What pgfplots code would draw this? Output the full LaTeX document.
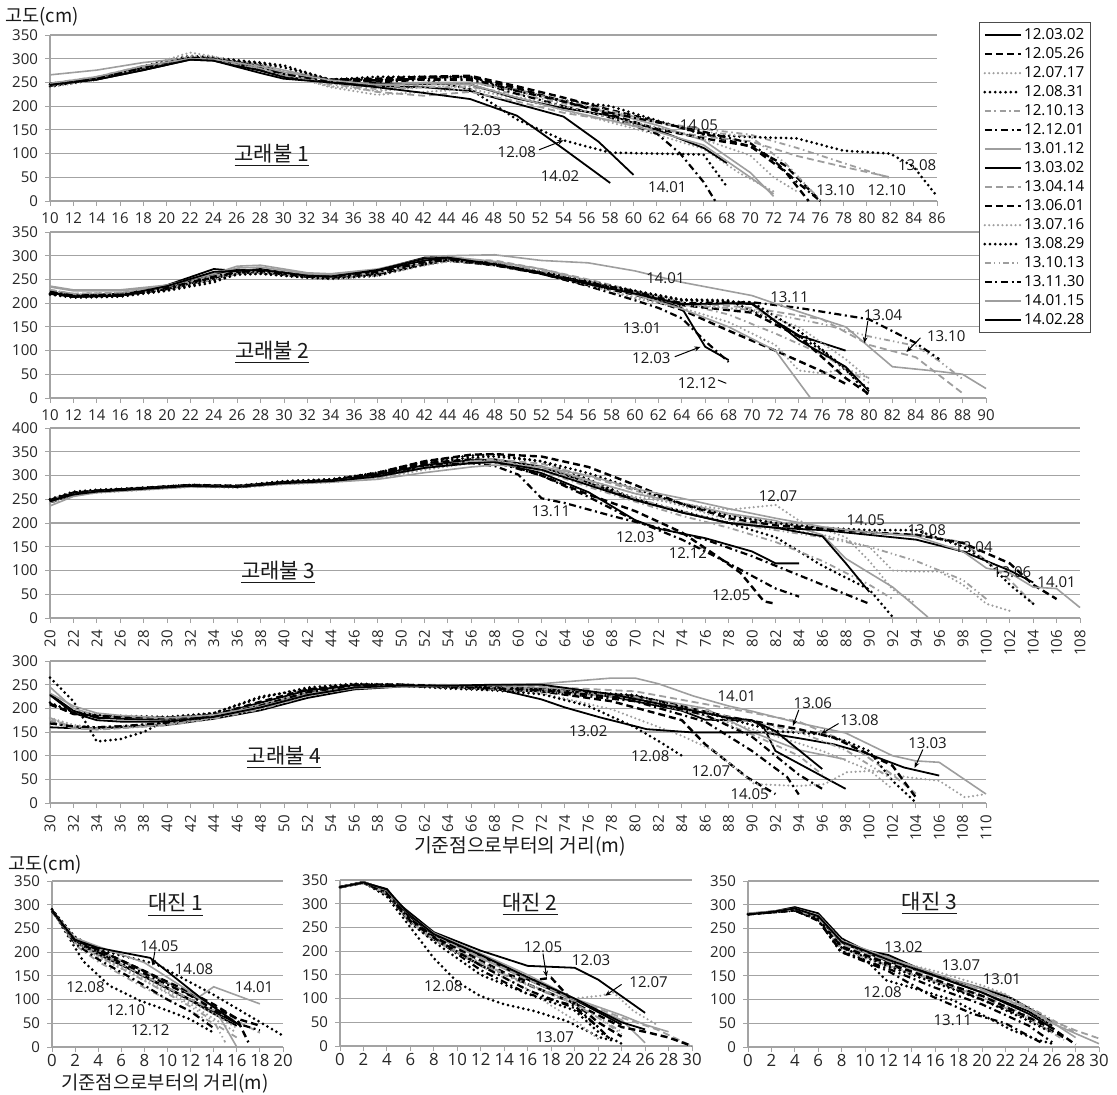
\documentclass[border=0pt]{standalone}
\usepackage{fontspec}
\setmainfont{Open Sans}
\newfontfamily\kr{Noto Sans CJK KR}
\usepackage{pgfplots}
\pgfplotsset{compat=1.18}
\usetikzlibrary{arrows.meta}

\definecolor{gridc}{HTML}{A3A3A3}
\definecolor{lgray}{HTML}{9E9E9E}

% line styles of the 16 survey dates
\tikzset{
  st1/.style={draw=black, line width=0.9pt},
  st2/.style={draw=black, line width=1.2pt, dash pattern=on 3.5pt off 2pt},
  st3/.style={draw=lgray, line width=1.2pt, line cap=round, dash pattern=on 0pt off 2.2pt},
  st4/.style={draw=black, line width=1.5pt, line cap=round, dash pattern=on 0pt off 2.6pt},
  st5/.style={draw=lgray, line width=0.9pt, dash pattern=on 3pt off 1.8pt on 0.8pt off 1.8pt},
  st6/.style={draw=black, line width=1.1pt, dash pattern=on 3.5pt off 1.8pt on 1pt off 1.8pt},
  st7/.style={draw=lgray, line width=0.8pt},
  st8/.style={draw=black, line width=0.9pt},
  st9/.style={draw=lgray, line width=0.9pt, dash pattern=on 3.5pt off 2pt},
  st10/.style={draw=black, line width=1.2pt, dash pattern=on 3.5pt off 2pt},
  st11/.style={draw=lgray, line width=1.2pt, line cap=round, dash pattern=on 0pt off 2.2pt},
  st12/.style={draw=black, line width=1.5pt, line cap=round, dash pattern=on 0pt off 2.6pt},
  st13/.style={draw=lgray, line width=0.9pt, dash pattern=on 3pt off 1.6pt on 0.7pt off 1.6pt on 0.7pt off 1.6pt},
  st14/.style={draw=black, line width=1.1pt, dash pattern=on 3.5pt off 1.8pt on 1pt off 1.8pt},
  st15/.style={draw=lgray, line width=0.8pt},
  st16/.style={draw=black, line width=0.9pt},
  lab/.style={font=\fontsize{7.5}{9}\selectfont, text=black!90, inner sep=0.5pt},
  ttl/.style={font=\kr\fontsize{10.5}{12}\selectfont, text=black!90},
  arr/.style={-{Stealth[length=3pt,width=2.4pt]}, line width=0.5pt, black},
}

\pgfplotsset{
  prof/.style={
    scale only axis, anchor=south west, clip=false,
    axis x line*=bottom, axis y line*=left,
    axis line style={draw=gridc, line width=0.6pt, -},
    ymajorgrids, major grid style={draw=gridc, line width=0.6pt},
    tick align=outside, major tick length=2.5pt,
    major tick style={draw=gridc, line width=0.5pt},
    ymin=0,
    tick label style={font=\fontsize{7.5}{9}\selectfont, text=black!85},
    /pgf/number format/assume math mode=true,
  },
  small/.style={
    xticklabel style={font=\fontsize{8.4}{10}\selectfont, yshift=2.5pt},
  }
}

\begin{document}
\begin{tikzpicture}

% ---------------- 고래불 2 ----------------
\begin{axis}[prof, at={(25pt,-199pt)}, width=468pt, height=83pt,
  xmin=10, xmax=90, ymax=350, xtick={10,12,...,90}, ytick={0,50,...,350}]
\addplot[st1] coordinates {(10,222) (12,214) (16,216) (20,238) (24,272) (26,268) (28,272) (32,258) (34,256) (38,270) (42,296) (44,298) (48,284) (52,262) (56,242) (60,222) (64,190) (66,108) (68,80)};
\addplot[st2] coordinates {(10,220) (12,214) (16,218) (20,230) (24,255) (26,264) (28,266) (32,256) (34,254) (38,262) (42,284) (44,290) (48,280) (52,262) (56,238) (60,218) (64,186) (68,142) (72,100) (76,56) (78,30)};
\addplot[st3] coordinates {(10,224) (12,216) (16,218) (20,228) (24,250) (26,262) (28,264) (32,254) (34,250) (38,258) (42,280) (44,288) (48,282) (52,268) (56,240) (60,210) (64,190) (68,160) (72,112) (74,58) (76,52) (78,62) (80,42)};
\addplot[st4] coordinates {(10,218) (12,212) (16,214) (20,226) (24,244) (26,262) (28,262) (32,254) (34,252) (38,258) (42,282) (44,292) (48,282) (52,266) (56,244) (60,226) (64,208) (68,206) (72,162) (76,100) (80,18)};
\addplot[st5] coordinates {(10,226) (12,218) (16,220) (20,232) (24,252) (26,266) (28,268) (32,256) (34,254) (38,260) (42,284) (44,290) (48,280) (52,262) (56,240) (60,220) (64,200) (68,176) (72,136) (76,92) (80,32)};
\addplot[st6] coordinates {(10,222) (12,214) (16,216) (20,230) (24,252) (26,264) (28,266) (32,256) (34,254) (38,264) (42,286) (44,292) (48,280) (52,262) (56,236) (60,206) (62,190) (64,168) (66,120) (68,76)};
\addplot[st7] coordinates {(10,234) (12,226) (16,226) (20,236) (24,260) (26,274) (28,276) (32,262) (34,260) (38,270) (42,292) (44,298) (48,288) (52,272) (56,248) (60,218) (64,188) (68,150) (72,100) (75,0)};
\addplot[st8] coordinates {(10,224) (12,216) (16,220) (20,234) (24,262) (26,270) (28,270) (32,258) (34,256) (38,268) (42,290) (44,294) (48,284) (52,264) (56,244) (60,222) (64,196) (68,200) (70,198) (72,162) (74,132) (78,100)};
\addplot[st9] coordinates {(10,228) (12,220) (16,222) (20,234) (24,258) (26,268) (28,270) (32,258) (34,256) (38,262) (42,280) (44,292) (48,290) (52,272) (56,250) (60,226) (64,202) (70,190) (76,166) (80,112) (84,86) (88,10)};
\addplot[st10] coordinates {(10,222) (12,214) (16,216) (20,230) (24,254) (26,264) (28,266) (32,256) (34,254) (38,262) (42,282) (44,290) (48,282) (52,264) (56,242) (60,222) (64,196) (70,180) (74,130) (78,42) (80,8)};
\addplot[st11] coordinates {(10,226) (12,218) (16,220) (20,230) (24,250) (26,262) (28,264) (32,254) (34,252) (38,258) (42,280) (44,288) (48,284) (52,266) (56,238) (60,212) (64,200) (70,184) (74,150) (78,82) (80,40)};
\addplot[st12] coordinates {(10,220) (12,212) (16,214) (20,228) (24,248) (26,260) (28,262) (32,254) (34,252) (38,260) (42,282) (44,292) (48,282) (52,266) (56,246) (60,226) (64,206) (70,202) (74,142) (78,62) (80,4)};
\addplot[st13] coordinates {(10,228) (12,220) (16,222) (20,234) (24,256) (26,266) (28,268) (32,258) (34,256) (38,264) (42,284) (44,292) (48,286) (52,268) (56,246) (60,222) (64,196) (70,186) (76,156) (80,130) (84,110) (86,78) (88,40)};
\addplot[st14] coordinates {(10,224) (12,216) (16,218) (20,232) (24,256) (26,266) (28,268) (32,256) (34,256) (38,266) (42,286) (44,292) (48,282) (52,264) (56,244) (60,224) (64,200) (70,202) (74,190) (80,166) (84,116) (86,82)};
\addplot[st15] coordinates {(10,236) (12,228) (16,228) (20,238) (24,262) (26,278) (28,280) (32,264) (34,262) (38,272) (42,294) (44,300) (48,302) (52,290) (56,285) (60,268) (64,244) (70,216) (74,182) (78,150) (82,66) (86,56) (88,50) (90,20)};
\addplot[st16] coordinates {(10,222) (12,214) (16,216) (20,236) (24,266) (26,268) (28,270) (32,258) (34,256) (38,270) (42,294) (44,296) (48,282) (52,262) (56,240) (60,220) (64,198) (70,200) (72,162) (74,122) (78,66) (80,14)};
\node[ttl] at (axis cs:29,96) {\underline{고래불 2}};
\node[lab] at (axis cs:62.6,253) {14.01};
\node[lab] at (axis cs:73.2,213) {13.11};
\node[lab] at (axis cs:81.2,175) {13.04};
\draw[arr] (axis cs:79.9,162) -- (axis cs:79.6,116);
\node[lab] at (axis cs:86.6,131) {13.10};
\draw[arr] (axis cs:84.4,127) -- (axis cs:83.2,97);
\node[lab] at (axis cs:60.6,147) {13.01};
\node[lab] at (axis cs:61.4,84) {12.03};
\draw[arr] (axis cs:63.4,87) -- (axis cs:65.6,108);
\node[lab] at (axis cs:65.3,32) {12.12};
\draw[line width=0.5pt] (axis cs:67.1,38) -- (axis cs:67.8,31);
\end{axis}

% ---------------- 고래불 1 ----------------
\begin{axis}[prof, at={(25pt,-100.5pt)}, width=443.5pt, height=83pt,
  xmin=10, xmax=86, ymax=350, xtick={10,12,...,86}, ytick={0,50,...,350},
  legend style={at={(1.047,1.078)}, anchor=north west, draw=black!70, line width=0.6pt,
    fill=white, font=\fontsize{7.6}{9}\selectfont, inner xsep=2pt, inner ysep=1.5pt,
    row sep=0pt, nodes={inner sep=0.9pt, text height=6.1pt, text depth=1.6pt}},
  legend cell align=left,
  legend image code/.code={\draw[#1] (0pt,0pt) -- (18pt,0pt);}]
\addplot[st1] coordinates {(10,246) (14,256) (18,276) (22,298) (24,296) (28,275) (30,262) (34,250) (38,242) (42,240) (46,232) (50,205) (54,178) (57,125) (60,55)};
\addplot[st2] coordinates {(10,243) (14,258) (18,280) (22,302) (24,300) (28,285) (30,270) (34,256) (38,258) (42,262) (46,264) (50,242) (54,218) (58,192) (62,168) (66,142) (70,115) (73,75) (76,0)};
\addplot[st3] coordinates {(10,240) (14,255) (18,283) (22,313) (24,305) (28,280) (30,268) (34,240) (38,224) (42,230) (46,236) (50,216) (54,192) (58,166) (62,140) (66,110) (69,60) (72,20)};
\addplot[st4] coordinates {(10,242) (14,257) (18,284) (22,306) (24,302) (28,292) (30,286) (34,256) (38,256) (42,256) (46,236) (50,172) (54,128) (58,102) (62,100) (66,98) (68,30)};
\addplot[st5] coordinates {(10,248) (14,262) (18,285) (22,300) (24,298) (28,278) (30,265) (34,246) (38,236) (42,240) (46,240) (50,226) (54,206) (58,186) (62,166) (66,152) (70,140) (74,112) (78,80) (82,48)};
\addplot[st6] coordinates {(10,244) (14,258) (18,280) (22,301) (24,299) (28,280) (30,268) (34,250) (38,250) (42,256) (46,255) (50,226) (54,200) (58,176) (62,142) (64,100) (66,40) (67,0)};
\addplot[st7] coordinates {(10,266) (14,276) (18,292) (22,302) (24,300) (28,288) (30,276) (34,256) (38,246) (42,250) (46,250) (50,236) (54,210) (58,186) (62,160) (66,128) (70,60) (72,10)};
\addplot[st8] coordinates {(10,248) (14,258) (18,279) (22,300) (24,298) (28,276) (30,262) (34,250) (38,246) (42,246) (46,246) (50,216) (54,196) (58,180) (62,150) (66,112) (68,80)};
\addplot[st9] coordinates {(10,245) (14,260) (18,280) (22,300) (24,298) (28,280) (30,266) (34,250) (38,230) (42,222) (46,230) (50,210) (54,186) (58,170) (62,152) (66,136) (70,126) (74,95) (78,72) (82,50)};
\addplot[st10] coordinates {(10,246) (14,258) (18,280) (22,300) (24,299) (28,284) (30,270) (34,256) (38,252) (42,260) (46,262) (50,238) (54,210) (58,182) (62,152) (66,132) (70,116) (73,62) (75,0)};
\addplot[st11] coordinates {(10,244) (14,256) (18,280) (22,306) (24,304) (28,282) (30,268) (34,242) (38,232) (42,240) (46,242) (50,220) (54,200) (58,176) (62,156) (66,130) (70,96) (72,50) (74,20)};
\addplot[st12] coordinates {(10,246) (14,258) (18,282) (22,302) (24,300) (28,290) (30,282) (34,256) (38,262) (42,262) (46,262) (50,232) (54,212) (58,200) (62,170) (66,140) (70,135) (74,132) (78,106) (82,100) (84,72) (86,10)};
\addplot[st13] coordinates {(10,244) (14,257) (18,282) (22,300) (24,298) (28,280) (30,265) (34,248) (38,240) (42,245) (46,250) (50,232) (54,212) (58,190) (62,166) (66,146) (70,136) (73,80) (76,2)};
\addplot[st14] coordinates {(10,245) (14,258) (18,282) (22,302) (24,300) (28,284) (30,268) (34,252) (38,255) (42,258) (46,258) (50,232) (54,210) (58,186) (62,166) (66,146) (70,122) (72,86) (74,40) (76,0)};
\addplot[st15] coordinates {(10,248) (14,262) (18,285) (22,300) (24,299) (28,284) (30,272) (34,255) (38,245) (42,248) (46,246) (50,218) (54,192) (58,170) (62,146) (66,118) (70,50) (72,15)};
\addplot[st16] coordinates {(10,245) (14,256) (18,276) (22,298) (24,296) (28,270) (30,258) (34,250) (38,240) (42,228) (46,215) (50,180) (54,110) (58,38)};
\legend{12.03.02,12.05.26,12.07.17,12.08.31,12.10.13,12.12.01,13.01.12,13.03.02,13.04.14,13.06.01,13.07.16,13.08.29,13.10.13,13.11.30,14.01.15,14.02.28}
\node[ttl] at (axis cs:29,96) {\underline{고래불 1}};
\node[lab] at (axis cs:47,150) {12.03};
\node[lab] at (axis cs:50,103) {12.08};
\draw[arr] (axis cs:51.9,108) -- (axis cs:54,128);
\node[lab] at (axis cs:53.7,52) {14.02};
\node[lab] at (axis cs:65.6,160) {14.05};
\node[lab] at (axis cs:62.9,30) {14.01};
\node[lab] at (axis cs:77.3,23) {13.10};
\node[lab] at (axis cs:81.7,23) {12.10};
\node[lab] at (axis cs:84.3,76) {13.08};
\end{axis}

% ---------------- 고래불 3 ----------------
\begin{axis}[prof, at={(25pt,-309pt)}, width=515pt, height=95pt,
  xmin=20, xmax=108, ymax=400, xtick={20,22,...,108}, ytick={0,50,...,400},
  xticklabel style={rotate=90, anchor=east}]
\addplot[st1] coordinates {(20,248) (22,262) (24,266) (28,272) (32,280) (36,276) (40,286) (44,288) (48,300) (52,322) (56,332) (58,330) (62,305) (66,265) (70,206) (72,188) (76,168) (80,140) (82,115) (84,115)};
\addplot[st2] coordinates {(20,244) (22,260) (24,266) (28,272) (32,278) (36,276) (40,284) (44,290) (48,304) (52,326) (56,334) (58,332) (62,300) (66,260) (70,225) (74,180) (77,130) (79,95) (81,35) (82,30)};
\addplot[st3] coordinates {(20,240) (22,258) (24,264) (28,270) (32,276) (36,274) (40,282) (44,286) (48,294) (52,312) (56,326) (58,330) (62,310) (66,280) (70,255) (74,240) (78,228) (82,238) (84,205) (88,170) (90,120) (92,60) (94,30)};
\addplot[st4] coordinates {(20,250) (22,264) (24,268) (28,274) (32,280) (36,278) (40,288) (44,292) (48,306) (52,330) (56,342) (58,344) (62,330) (66,292) (70,250) (74,225) (78,200) (82,170) (86,110) (90,60) (92,2)};
\addplot[st5] coordinates {(20,246) (22,262) (24,268) (28,272) (32,278) (36,276) (40,284) (44,288) (48,300) (52,318) (56,328) (58,330) (62,310) (66,276) (70,245) (74,215) (78,190) (82,160) (86,120) (90,70) (92,40)};
\addplot[st6] coordinates {(20,244) (22,260) (24,266) (28,272) (32,278) (36,276) (40,284) (44,288) (48,302) (52,320) (56,330) (58,328) (62,300) (66,255) (70,205) (74,165) (78,115) (82,62) (84,45)};
\addplot[st7] coordinates {(20,250) (22,264) (24,268) (28,274) (32,280) (36,278) (40,286) (44,290) (48,300) (52,318) (56,328) (58,332) (62,320) (66,290) (70,262) (74,242) (78,220) (82,205) (86,175) (88,125) (92,65) (95,2)};
\addplot[st8] coordinates {(20,246) (22,262) (24,268) (28,274) (32,280) (36,278) (40,286) (44,290) (48,302) (52,320) (56,332) (58,334) (62,318) (66,285) (70,250) (74,222) (78,200) (82,190) (86,185) (90,175) (94,165) (98,140) (102,100) (104,75)};
\addplot[st9] coordinates {(20,244) (22,262) (24,266) (28,272) (32,280) (36,280) (40,282) (44,290) (48,296) (52,316) (56,330) (58,334) (62,325) (66,298) (70,268) (74,240) (78,218) (82,200) (86,190) (90,180) (94,175) (98,160) (100,120) (102,80) (104,30)};
\addplot[st10] coordinates {(20,248) (22,264) (24,268) (28,274) (32,280) (36,278) (40,286) (44,290) (48,306) (52,330) (56,344) (58,345) (62,340) (66,318) (70,280) (74,240) (78,210) (82,195) (86,188) (90,180) (94,175) (98,158) (102,115) (104,70) (106,40)};
\addplot[st11] coordinates {(20,242) (22,260) (24,264) (28,270) (32,278) (36,276) (40,282) (44,286) (48,296) (52,314) (56,326) (58,330) (62,318) (66,290) (70,262) (74,236) (78,206) (82,190) (86,175) (90,150) (92,100) (94,98) (96,98) (98,70) (100,30) (102,15)};
\addplot[st12] coordinates {(20,250) (22,266) (24,270) (28,274) (32,280) (36,278) (40,288) (44,292) (48,304) (52,326) (56,338) (58,340) (62,330) (66,305) (70,272) (74,240) (78,215) (82,200) (86,190) (90,185) (94,185) (98,150) (100,120) (102,70) (104,30)};
\addplot[st13] coordinates {(20,244) (22,260) (24,266) (28,272) (32,278) (36,276) (40,284) (44,288) (48,298) (52,318) (56,330) (58,332) (62,315) (66,285) (70,252) (74,225) (78,200) (82,185) (86,170) (90,150) (94,120) (98,80) (100,40)};
\addplot[st14] coordinates {(20,246) (22,262) (24,268) (28,272) (32,278) (36,276) (40,284) (44,288) (48,300) (52,322) (56,326) (58,320) (60,302) (62,252) (64,242) (68,215) (72,190) (76,165) (80,130) (84,90) (88,50) (90,30)};
\addplot[st15] coordinates {(20,236) (22,256) (24,264) (28,270) (32,276) (36,276) (40,282) (44,286) (48,292) (52,306) (56,318) (58,322) (62,318) (66,300) (70,272) (74,252) (78,230) (82,210) (86,192) (90,180) (94,172) (98,140) (100,105) (102,95) (104,65) (106,62) (108,22)};
\addplot[st16] coordinates {(20,246) (22,260) (24,266) (28,272) (32,278) (36,276) (40,284) (44,288) (48,298) (52,316) (56,326) (58,328) (62,312) (66,280) (70,248) (74,222) (78,200) (82,190) (86,172) (88,115) (90,55)};
\node[ttl] at (axis cs:39.5,96) {\underline{고래불 3}};
\node[lab] at (axis cs:62.8,224) {13.11};
\node[lab] at (axis cs:70,171) {12.03};
\node[lab] at (axis cs:74.5,136) {12.12};
\node[lab] at (axis cs:78.2,48) {12.05};
\node[lab] at (axis cs:82.2,256) {12.07};
\node[lab] at (axis cs:89.7,206) {14.05};
\node[lab] at (axis cs:94.9,185) {13.08};
\node[lab] at (axis cs:98.9,150) {13.04};
\node[lab] at (axis cs:102.2,97) {13.06};
\node[lab] at (axis cs:106,76) {14.01};
\end{axis}

% ---------------- 고래불 4 ----------------
\begin{axis}[prof, at={(25pt,-401.5pt)}, width=468pt, height=71pt,
  xmin=30, xmax=110, ymax=300, xtick={30,32,...,110}, ytick={0,50,...,300},
  xticklabel style={rotate=90, anchor=east}]
\addplot[st1] coordinates {(30,230) (32,195) (34,180) (36,178) (40,176) (44,186) (48,212) (52,238) (56,248) (60,248) (64,246) (68,246) (72,240) (78,225) (84,195) (86,176) (90,174) (91,160) (92,110) (98,30)};
\addplot[st2] coordinates {(30,208) (32,190) (34,182) (36,180) (40,178) (44,185) (48,205) (52,232) (56,248) (60,248) (64,245) (68,242) (72,236) (78,215) (84,175) (86,124) (89.6,54) (92,19)};
\addplot[st3] coordinates {(30,180) (32,165) (34,160) (36,162) (40,170) (44,180) (48,200) (52,228) (56,245) (60,248) (64,244) (68,240) (72,232) (78,198) (84,142) (86.8,110) (89,65) (90.2,40) (94,36) (96.2,40) (98.1,65) (100.3,68) (103.4,54) (106,47) (108.2,12) (110,19)};
\addplot[st4] coordinates {(30,265) (32,215) (34,130) (36,135) (38,150) (40,175) (44,190) (48,225) (52,240) (56,250) (60,248) (64,242) (68,238) (72,230) (76,205) (80,160) (82,131) (84,100)};
\addplot[st5] coordinates {(30,175) (32,160) (34,158) (36,160) (40,168) (44,182) (48,202) (52,230) (56,246) (60,248) (64,245) (68,242) (72,238) (80,220) (86,185) (90,145) (94,100) (96,60)};
\addplot[st6] coordinates {(30,170) (32,160) (34,160) (36,162) (40,168) (44,182) (48,204) (52,232) (56,246) (60,248) (64,244) (68,240) (72,236) (80,215) (86,172) (90,110) (93,55) (94,18)};
\addplot[st7] coordinates {(30,245) (32,200) (34,185) (36,182) (40,178) (44,186) (48,208) (52,232) (56,246) (60,248) (64,246) (68,246) (72,244) (80,226) (86,200) (90,150) (94,112) (98,92)};
\addplot[st8] coordinates {(30,160) (32,158) (34,158) (36,160) (40,165) (44,178) (48,196) (52,222) (56,240) (60,246) (64,246) (68,242) (72,219) (74,202) (77,181) (81,156) (85,149) (91,149) (94,137) (97,124) (100,103) (103,75) (106,58)};
\addplot[st9] coordinates {(30,180) (32,158) (34,155) (36,158) (40,166) (44,180) (48,202) (52,228) (56,244) (60,250) (64,250) (68,248) (72,246) (80,236) (88,200) (94,172) (98,130) (102,60) (104,20)};
\addplot[st10] coordinates {(30,210) (32,188) (34,184) (36,182) (40,180) (44,186) (48,214) (52,240) (56,250) (60,250) (64,246) (68,244) (72,240) (80,226) (88,182) (94,156) (97,138) (100,103) (102,79) (104,12)};
\addplot[st11] coordinates {(30,178) (32,162) (34,158) (36,160) (40,166) (44,180) (48,200) (52,226) (56,244) (60,248) (64,244) (68,240) (72,236) (80,222) (88,170) (92,142) (96,110) (100,70) (102,30)};
\addplot[st12] coordinates {(30,212) (32,192) (34,186) (36,184) (40,182) (44,190) (48,222) (52,244) (56,252) (60,250) (64,246) (68,244) (72,240) (80,228) (88,178) (92,152) (96,145) (98,131) (100,110) (102,47) (104,1)};
\addplot[st13] coordinates {(30,170) (32,158) (34,156) (36,158) (40,164) (44,178) (48,198) (52,226) (56,244) (60,248) (64,246) (68,244) (72,240) (80,224) (88,182) (94,150) (98,112) (102,50)};
\addplot[st14] coordinates {(30,168) (32,162) (34,160) (36,162) (40,170) (44,184) (48,206) (52,234) (56,248) (60,250) (64,246) (68,242) (72,238) (80,220) (86,186) (90,140) (94,60) (96,30)};
\addplot[st15] coordinates {(30,232) (32,205) (34,190) (36,185) (40,180) (44,186) (48,204) (52,228) (56,242) (60,246) (64,248) (68,250) (72,252) (78,264) (80,264) (82,252) (85,226) (88,205) (90,194) (94,169) (98,148) (102,100) (104,89) (106,86) (110,19)};
\addplot[st16] coordinates {(30,228) (32,190) (34,175) (36,172) (40,172) (44,182) (48,202) (52,228) (56,244) (60,248) (64,248) (68,250) (72,250) (78,230) (84,200) (88,180) (90,175) (92,152) (96,72)};
\node[ttl] at (axis cs:50,96) {\underline{고래불 4}};
\node[lab] at (axis cs:88.7,226) {14.01};
\node[lab] at (axis cs:95.2,210) {13.06};
\draw[arr] (axis cs:94,197) -- (axis cs:93.5,163);
\node[lab] at (axis cs:99.2,175) {13.08};
\draw[arr] (axis cs:97.4,168) -- (axis cs:95.9,146);
\node[lab] at (axis cs:105,126) {13.03};
\draw[arr] (axis cs:104.6,113) -- (axis cs:103.9,74);
\node[lab] at (axis cs:76,152) {13.02};
\node[lab] at (axis cs:81.3,100) {12.08};
\node[lab] at (axis cs:86.5,67) {12.07};
\node[lab] at (axis cs:89.8,19) {14.05};
\end{axis}

% ---------------- 대진 1 ----------------
\begin{axis}[prof, small, at={(26pt,-523.5pt)}, width=115.5pt, height=83pt,
  xmin=0, xmax=20, ymax=350, xtick={0,2,...,20}, ytick={0,50,...,350}]
\addplot[st1] coordinates {(0,288) (2,225) (4,200) (8,148) (12,98) (14,70) (16,45)};
\addplot[st2] coordinates {(0,286) (2,228) (4,205) (8,160) (12,110) (16,60) (18,45)};
\addplot[st3] coordinates {(0,286) (2,220) (4,190) (8,140) (12,90) (14,60) (16,30)};
\addplot[st4] coordinates {(0,290) (2.7,181) (5,129) (7.6,98) (10,77) (12,58) (14,30)};
\addplot[st5] coordinates {(0,288) (2,215) (4,180) (8,125) (12,75) (14,50) (16,20)};
\addplot[st6] coordinates {(0,288) (2,218) (4,185) (8,130) (10,100) (12,75) (14,40)};
\addplot[st7] coordinates {(0,288) (2,225) (4,205) (8,160) (12,112) (14,85) (16,0)};
\addplot[st8] coordinates {(0,288) (2,222) (4,195) (8,150) (12,100) (14,75) (16,50)};
\addplot[st9] coordinates {(0,288) (2,224) (4,200) (8,150) (12,100) (16,55) (18,30)};
\addplot[st10] coordinates {(0,288) (2,226) (4,205) (8,160) (12,115) (14,90) (16,60) (17,10)};
\addplot[st11] coordinates {(0,288) (2,222) (4,195) (8,145) (12,95) (14,70) (16,40)};
\addplot[st12] coordinates {(0,290) (2,232) (4,205) (9,175) (14,110) (20,24)};
\addplot[st13] coordinates {(0,288) (2,220) (4,192) (8,140) (12,85) (14,55) (15,10)};
\addplot[st14] coordinates {(0,288) (2,224) (4,200) (8,155) (12,108) (16,50) (18,35)};
\addplot[st15] coordinates {(0,288) (2,230) (4,212) (8,178) (12.7,105) (14,127) (18,91)};
\addplot[st16] coordinates {(0,288) (2,226) (4,209) (8.5,188) (12.8,105) (16.3,45)};
\node[ttl] at (axis cs:10.7,300) {\underline{대진 1}};
\node[lab] at (axis cs:9.3,213) {14.05};
\draw[arr] (axis cs:8.9,201) -- (axis cs:8.7,172);
\node[lab] at (axis cs:12.3,164) {14.08};
\node[lab] at (axis cs:17.5,126) {14.01};
\node[lab] at (axis cs:2.9,126) {12.08};
\node[lab] at (axis cs:6.4,77) {12.10};
\node[lab] at (axis cs:8.5,35) {12.12};
\end{axis}

% ---------------- 대진 2 ----------------
\begin{axis}[prof, small, at={(170pt,-523pt)}, width=176pt, height=83pt,
  xmin=0, xmax=30, ymax=350, xtick={0,2,...,30}, ytick={0,50,...,350}]
\addplot[st1] coordinates {(0,335) (2,345) (4,331) (5,300) (8,240) (12,201) (16,169) (20,165) (22,140) (24,105) (26,70)};
\addplot[st2] coordinates {(0,335) (2,344) (4,322) (6,265) (8,225) (12,170) (16,137) (18,144) (19.3,109) (20.5,81) (22,50) (24,20)};
\addplot[st3] coordinates {(0,336) (2,343) (4,318) (6,258) (8,222) (12,175) (15,141) (19.3,99) (22.2,106) (23.3,113) (25,74) (27,45)};
\addplot[st4] coordinates {(0,335) (2,345) (4,315) (6,250) (8,185) (10,135) (12,105) (14,88) (16.5,74) (19.3,53) (22.2,18) (23.3,11)};
\addplot[st5] coordinates {(0,334) (2,344) (4,320) (6,262) (8,225) (12,172) (16,128) (20,88) (22,60) (24,25)};
\addplot[st6] coordinates {(0,335) (2,345) (4,320) (6,262) (8,228) (12,160) (16,110) (20,85) (22,40) (23,15)};
\addplot[st7] coordinates {(0,336) (2,345) (4,325) (6,270) (8,232) (12,185) (16,140) (20,95) (24,55) (26,7)};
\addplot[st8] coordinates {(0,335) (2,346) (4,328) (6,272) (8,235) (12,190) (16,140) (20,98) (24,45)};
\addplot[st9] coordinates {(0,335) (2,345) (4,326) (6,270) (8,232) (12,188) (16,140) (20,98) (24,60) (27,35) (30,0)};
\addplot[st10] coordinates {(0,335) (2,345) (4,325) (6,268) (8,230) (12,180) (16,130) (20,90) (24,40) (26,30) (28,18) (30,0)};
\addplot[st11] coordinates {(0,335) (2,344) (4,322) (6,262) (8,225) (12,168) (16,120) (18,85) (20,55) (22,15)};
\addplot[st12] coordinates {(0,335) (2,345) (4,322) (6,260) (8,220) (12,150) (16,110) (20,75) (22,30) (24,5)};
\addplot[st13] coordinates {(0,334) (2,344) (4,322) (6,262) (8,226) (12,176) (16,130) (20,90) (24,30)};
\addplot[st14] coordinates {(0,335) (2,345) (4,322) (6,264) (8,228) (12,170) (16,118) (20,80) (22,40)};
\addplot[st15] coordinates {(0,335) (2,346) (4,328) (6,275) (8,238) (12,195) (16,150) (20,100) (24,65) (26,45) (28,30)};
\addplot[st16] coordinates {(0,335) (2,345) (4,330) (6,275) (8,236) (12,192) (16,145) (20,100) (24,50) (26,35)};
\node[ttl] at (axis cs:16.2,299) {\underline{대진 2}};
\node[lab] at (axis cs:17.3,208) {12.05};
\draw[arr] (axis cs:17.3,195) -- (axis cs:17.6,146);
\node[lab] at (axis cs:21.4,180) {12.03};
\node[lab] at (axis cs:26.3,134) {12.07};
\draw[arr] (axis cs:24,130) -- (axis cs:22.6,106);
\node[lab] at (axis cs:8.8,127) {12.08};
\node[lab] at (axis cs:18.3,18) {13.07};
\end{axis}

% ---------------- 대진 3 ----------------
\begin{axis}[prof, small, at={(374pt,-523.5pt)}, width=175.5pt, height=83pt,
  xmin=0, xmax=30, ymax=350, xtick={0,2,...,30}, ytick={0,50,...,350}]
\addplot[st1] coordinates {(0,280) (2,284) (4,290) (6,272) (8,220) (12,180) (16,150) (20,115) (24,75) (26,45)};
\addplot[st2] coordinates {(0,280) (2,284) (4,288) (6,270) (8,210) (12,175) (16,140) (20,100) (24,60) (27,20)};
\addplot[st3] coordinates {(0,281) (2,285) (4,289) (6,268) (8,205) (12,170) (16,138) (20,110) (24,65) (26,30)};
\addplot[st4] coordinates {(0,280) (2,284) (4,288) (6,268) (7.8,204) (10.1,183) (11.8,141) (14.7,120) (17.5,99) (20.4,63) (22.6,35) (24.9,14) (26,7)};
\addplot[st5] coordinates {(0,281) (2,285) (4,290) (6,270) (8,210) (12,172) (16,140) (20,105) (24,60) (27,15)};
\addplot[st6] coordinates {(0,280) (2,284) (4,288) (6,268) (8,200) (12,165) (16,125) (20,90) (24,45) (26,10)};
\addplot[st7] coordinates {(0,281) (2,286) (4,291) (6,276) (8,222) (12,190) (16,152) (20,125) (22,110) (26,52) (28,20)};
\addplot[st8] coordinates {(0,280) (2,285) (4,295) (6,282) (8,229) (10,204) (12,194) (14,172) (16,151) (20,123) (22.6,102) (26,53)};
\addplot[st9] coordinates {(0,281) (2,285) (4,290) (6,272) (8,215) (12,180) (16,148) (20,118) (24,80) (26,55) (28,35) (30,18)};
\addplot[st10] coordinates {(0,280) (2,285) (4,290) (6,270) (8,212) (12,176) (16,142) (20,108) (24,62) (26,40) (28,5)};
\addplot[st11] coordinates {(0,281) (2,286) (4,291) (6,275) (8,225) (12,185) (16,160) (20,130) (22,112) (24,80) (26,45)};
\addplot[st12] coordinates {(0,280) (2,285) (4,290) (6,270) (8,210) (12,170) (16,135) (20,100) (24,55) (26,30)};
\addplot[st13] coordinates {(0,281) (2,285) (4,290) (6,272) (8,218) (12,182) (16,150) (20,120) (24,85) (28,30)};
\addplot[st14] coordinates {(0,280) (2,284) (4,288) (6,266) (8,200) (12,160) (15.8,106) (19.2,70) (22,50) (25,10)};
\addplot[st15] coordinates {(0,282) (2,286) (4,292) (6,278) (8,224) (12,188) (16,155) (20,122) (24,80) (26,50) (30,7)};
\addplot[st16] coordinates {(0,280) (2,285) (4,292) (6,276) (8,222) (12,184) (16,150) (20,115) (24,70) (26,40)};
\node[ttl] at (axis cs:15.5,303) {\underline{대진 3}};
\node[lab] at (axis cs:13.3,211) {13.02};
\node[lab] at (axis cs:18.2,172) {13.07};
\node[lab] at (axis cs:21.7,144) {13.01};
\node[lab] at (axis cs:11.5,116) {12.08};
\node[lab] at (axis cs:17.5,56) {13.11};
\end{axis}

% axis titles
\node[font=\kr\fontsize{9.3}{11}\selectfont, text=black!90] at (21pt,-8.5pt) {고도(cm)};
\node[font=\kr\fontsize{9.3}{11}\selectfont, text=black!90] at (22.5pt,-432.5pt) {고도(cm)};
\node[font=\kr\fontsize{9.6}{11}\selectfont, text=black!90] at (260pt,-423pt) {기준점으로부터의 거리(m)};
\node[font=\kr\fontsize{9.4}{11}\selectfont, text=black!90, inner sep=0pt] at (82.5pt,-542pt) {기준점으로부터의 거리(m)};

\pgfresetboundingbox
\path[use as bounding box] (0pt,0pt) rectangle (558.5pt,-547pt);
\end{tikzpicture}
\end{document}
